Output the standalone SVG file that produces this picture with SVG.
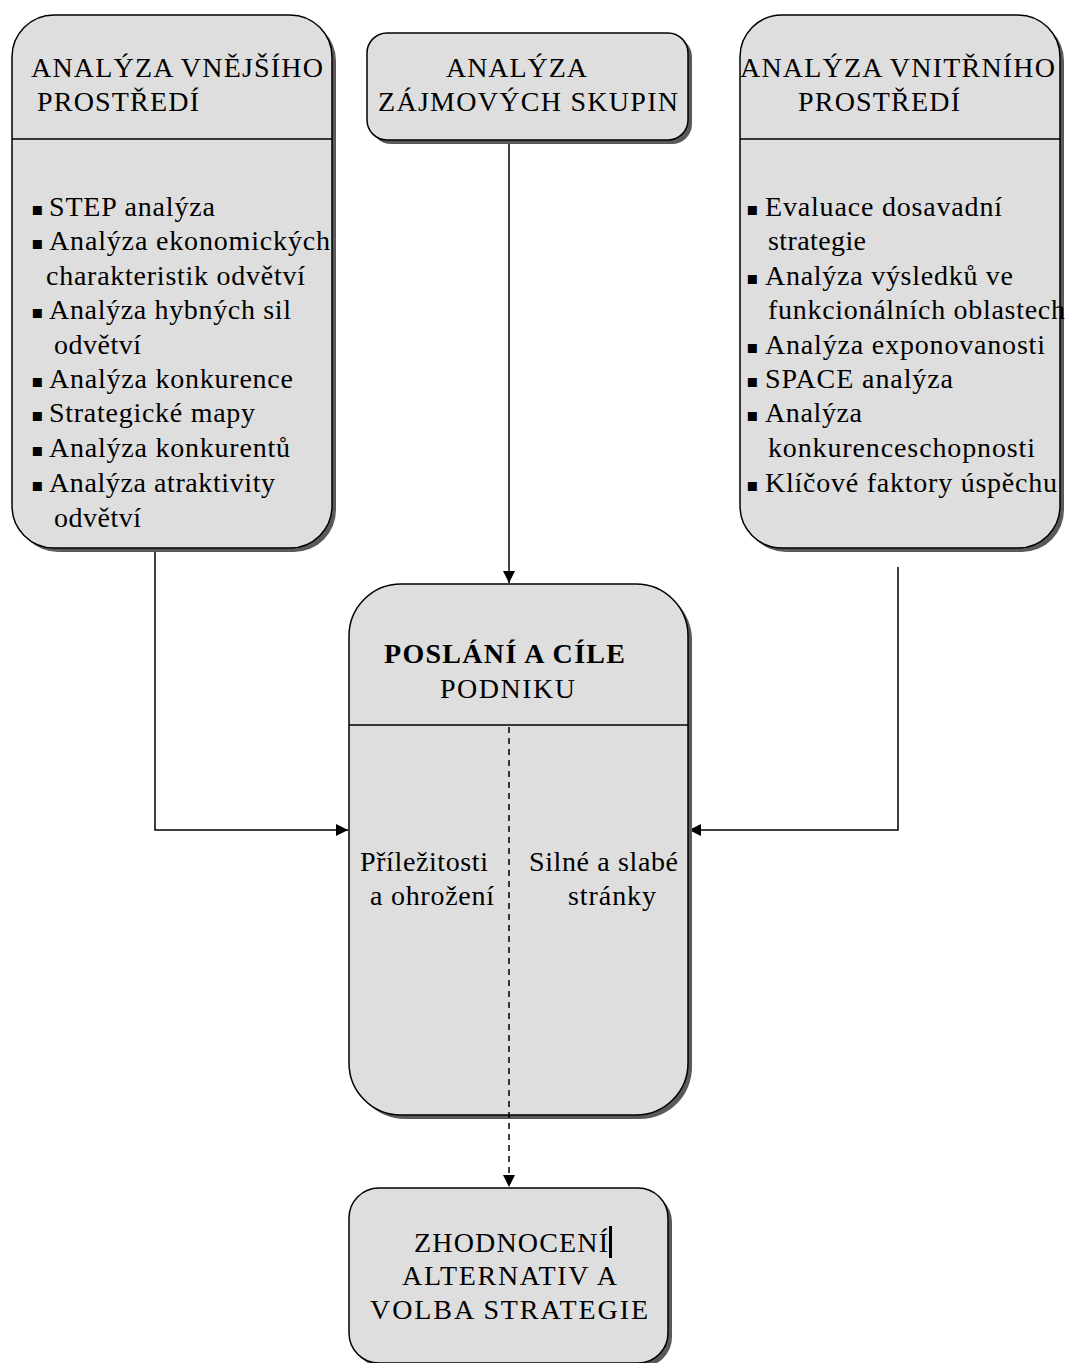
<svg xmlns="http://www.w3.org/2000/svg" width="1070" height="1363" viewBox="0 0 1070 1363">
<defs>
<style>
.box{fill:#dedede;stroke:#000;stroke-width:1.5}
.sh{fill:#5a5a5a}
.t{font-size:28px;fill:#000}
.b{font-size:18px;fill:#000}
.ln{stroke:#000;stroke-width:1.5;fill:none}
.dash{stroke:#000;stroke-width:1.5;fill:none;stroke-dasharray:6,5}
</style>
<marker id="ah" viewBox="0 0 12 12" refX="12" refY="6" markerWidth="12" markerHeight="12" markerUnits="userSpaceOnUse" orient="auto">
<path d="M0,0 L12,6 L0,12 Z" fill="#000"/>
</marker>
</defs>
<rect width="1070" height="1363" fill="#fff"/>

<g id="connectors">
<line class="ln" x1="509" y1="141" x2="509" y2="583" marker-end="url(#ah)"/>
<polyline class="ln" points="155,549 155,830 348,830" marker-end="url(#ah)"/>
<polyline class="ln" points="898,567 898,830 689,830" marker-end="url(#ah)"/>
</g>

<g font-family="Liberation Serif, Times New Roman, DejaVu Serif, serif">
<g id="node-vnejsi">
<rect class="sh" x="16" y="19" width="320" height="533" rx="42"/>
<rect class="box" x="12" y="15" width="320" height="533" rx="42"/>
<line class="ln" x1="12" y1="139" x2="332" y2="139"/>
<text class="t" x="31" y="77" textLength="292">ANALÝZA VNĚJŠÍHO</text>
<text class="t" x="37" y="111" textLength="162">PROSTŘEDÍ</text>
<text class="b" x="31" y="215" font-family="DejaVu Sans, sans-serif">▪</text><text class="t" x="49" y="216" textLength="166">STEP analýza</text>
<text class="b" x="31" y="249" font-family="DejaVu Sans, sans-serif">▪</text><text class="t" x="49" y="250" textLength="281">Analýza ekonomických</text>
<text class="t" x="46" y="285" textLength="259">charakteristik odvětví</text>
<text class="b" x="31" y="318" font-family="DejaVu Sans, sans-serif">▪</text><text class="t" x="49" y="319" textLength="242">Analýza hybných sil</text>
<text class="t" x="54" y="354" textLength="87">odvětví</text>
<text class="b" x="31" y="387" font-family="DejaVu Sans, sans-serif">▪</text><text class="t" x="49" y="388" textLength="244">Analýza konkurence</text>
<text class="b" x="31" y="421" font-family="DejaVu Sans, sans-serif">▪</text><text class="t" x="49" y="422" textLength="206">Strategické mapy</text>
<text class="b" x="31" y="456" font-family="DejaVu Sans, sans-serif">▪</text><text class="t" x="49" y="457" textLength="241">Analýza konkurentů</text>
<text class="b" x="31" y="491" font-family="DejaVu Sans, sans-serif">▪</text><text class="t" x="49" y="492" textLength="226">Analýza atraktivity</text>
<text class="t" x="54" y="527" textLength="87">odvětví</text>
</g>

<g id="node-zajmove">
<rect class="sh" x="371" y="37" width="321" height="107" rx="20"/>
<rect class="box" x="367" y="33" width="321" height="107" rx="20"/>
<text class="t" x="446" y="77" textLength="141">ANALÝZA</text>
<text class="t" x="378" y="111" textLength="300">ZÁJMOVÝCH SKUPIN</text>
</g>

<g id="node-vnitrni">
<rect class="sh" x="744" y="19" width="320" height="533" rx="42"/>
<rect class="box" x="740" y="15" width="320" height="533" rx="42"/>
<line class="ln" x1="740" y1="139" x2="1060" y2="139"/>
<text class="t" x="740" y="77" textLength="315">ANALÝZA VNITŘNÍHO</text>
<text class="t" x="798" y="111" textLength="162">PROSTŘEDÍ</text>
<text class="b" x="746" y="215" font-family="DejaVu Sans, sans-serif">▪</text><text class="t" x="765" y="216" textLength="237">Evaluace dosavadní</text>
<text class="t" x="768" y="250" textLength="98">strategie</text>
<text class="b" x="746" y="284" font-family="DejaVu Sans, sans-serif">▪</text><text class="t" x="765" y="285" textLength="248">Analýza výsledků ve</text>
<text class="t" x="768" y="319" textLength="297">funkcionálních oblastech</text>
<text class="b" x="746" y="353" font-family="DejaVu Sans, sans-serif">▪</text><text class="t" x="765" y="354" textLength="280">Analýza exponovanosti</text>
<text class="b" x="746" y="387" font-family="DejaVu Sans, sans-serif">▪</text><text class="t" x="765" y="388" textLength="188">SPACE analýza</text>
<text class="b" x="746" y="421" font-family="DejaVu Sans, sans-serif">▪</text><text class="t" x="765" y="422" textLength="97">Analýza</text>
<text class="t" x="768" y="457" textLength="267">konkurenceschopnosti</text>
<text class="b" x="746" y="491" font-family="DejaVu Sans, sans-serif">▪</text><text class="t" x="765" y="492" textLength="292">Klíčové faktory úspěchu</text>
</g>

<g id="node-poslani">
<rect class="sh" x="353" y="588" width="339" height="531" rx="52"/>
<rect class="box" x="349" y="584" width="339" height="531" rx="52"/>
<line class="ln" x1="349" y1="725" x2="688" y2="725"/>
<text class="t" x="384" y="663" textLength="241" font-weight="bold">POSLÁNÍ A CÍLE</text>
<text class="t" x="440" y="698" textLength="135">PODNIKU</text>
<text class="t" x="360" y="871" textLength="128">Příležitosti</text>
<text class="t" x="370" y="905" textLength="124">a ohrožení</text>
<text class="t" x="529" y="871" textLength="149">Silné a slabé</text>
<text class="t" x="568" y="905" textLength="88">stránky</text>
<line class="dash" x1="509" y1="727" x2="509" y2="1187" marker-end="url(#ah)"/>
</g>

<g id="node-zhodnoceni">
<rect class="sh" x="353" y="1192" width="319" height="175" rx="30"/>
<rect class="box" x="349" y="1188" width="319" height="175" rx="30"/>
<text class="t" x="414" y="1252" textLength="194">ZHODNOCENÍ</text>
<rect x="609" y="1226" width="3" height="32" fill="#000"/>
<text class="t" x="402" y="1285" textLength="215">ALTERNATIV A</text>
<text class="t" x="370" y="1319" textLength="278">VOLBA  STRATEGIE</text>
</g>
</g>
</svg>
